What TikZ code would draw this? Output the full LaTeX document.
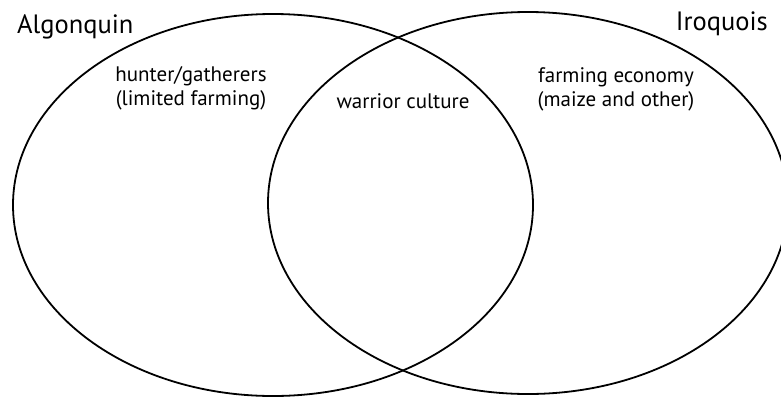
\documentclass[tikz,border=0pt]{standalone}
\usepackage{fontspec}
\setmainfont{PT Sans}
\usetikzlibrary{positioning, shapes.geometric}

\begin{document}
\begin{tikzpicture}[
  x=1pt, y=-1pt,
  set/.style={draw, line width=1.8pt, ellipse, inner sep=0pt,
              minimum width=520pt, minimum height=382pt},
  setname/.style={font=\fontsize{26.5}{30}\selectfont, inner sep=0pt},
  trait/.style={font=\fontsize{21}{24}\selectfont, align=center, inner sep=0pt},
]
  \useasboundingbox (0,0) rectangle (781,397);
  % the two groups
  \node[set] (algonquin) at (273,205) {};
  \node[set] (iroquois)  at (528,203) {};
  % group names
  \node[setname, anchor=base west] (algname) at (17,33.5) {Algonquin};
  \node[setname, anchor=base east] (ironame) at (768,30.5) {Iroquois};
  % traits
  \node[trait] (hunt) at (191,88.5) {hunter/gatherers\\(limited farming)};
  \node[trait, anchor=base] (war) at (403,108) {warrior culture};
  \node[trait] (farm) at (616,89.5) {farming economy\\(maize and other)};
\end{tikzpicture}
\end{document}
